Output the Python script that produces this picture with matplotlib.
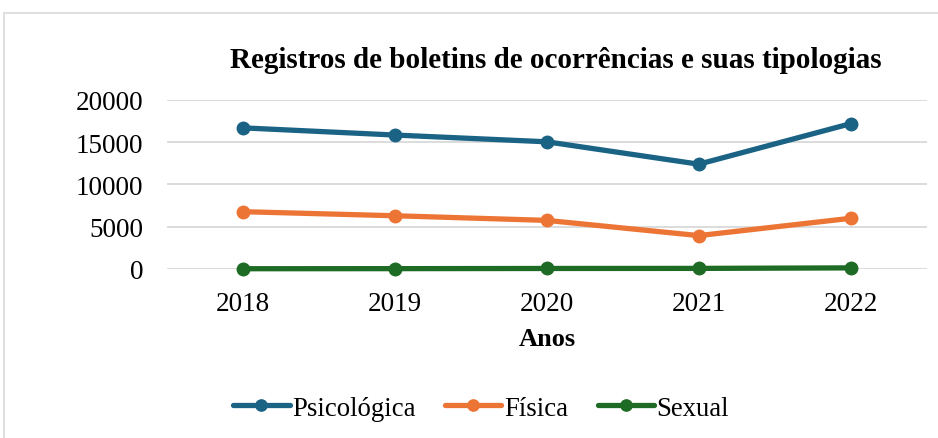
"""Registros de boletins de ocorrencias por tipologia, 2018-2022."""

import matplotlib

matplotlib.use("Agg")
import matplotlib.pyplot as plt
from matplotlib.patches import Rectangle

anos = ["2018", "2019", "2020", "2021", "2022"]
psicologica = [16700, 15850, 15050, 12400, 17200]
fisica = [6780, 6300, 5750, 3950, 6000]
sexual = [30, 40, 60, 70, 130]

series = [
    ("Psicológica", psicologica, "#1a6385"),
    ("Física", fisica, "#ec7535"),
    ("Sexual", sexual, "#1d6b25"),
]

plt.rcParams["font.family"] = ["Liberation Serif", "DejaVu Serif"]

fig = plt.figure(figsize=(9.38, 4.39), dpi=100)
ax = fig.add_axes([0.178, 0.385, 0.81, 0.385])

# chart frame like the spreadsheet export (right/bottom edges fall outside)
fig.patches.append(Rectangle((4 / 938, -0.05), 1.2, 1 - 14 / 439 + 0.05,
                             transform=fig.transFigure, fill=False,
                             edgecolor="#d9d9d9", linewidth=1.2))

x = range(len(anos))
for nome, valores, cor in series:
    ax.plot(x, valores, color=cor, linewidth=3.8, marker="o",
            markersize=9, label=nome, solid_capstyle="round", clip_on=False)

ax.set_xlim(-0.5, len(anos) - 0.5)
ax.set_ylim(0, 20000)
ax.set_yticks(range(0, 20001, 5000))
ax.set_xticks(list(x))
ax.set_xticklabels(anos)
ax.grid(axis="y", color="#d9d9d9", linewidth=1.3)
ax.set_axisbelow(True)
for s in ax.spines.values():
    s.set_visible(False)
ax.tick_params(length=0, labelsize=19.5)
ax.tick_params(axis="y", pad=17)
ax.tick_params(axis="x", pad=16)

ax.set_xlabel("Anos", fontsize=19, fontweight="bold", labelpad=8)
fig.text(0.593, 0.862, "Registros de boletins de ocorrências e suas tipologias",
         fontsize=21, fontweight="bold", ha="center", va="center")

fig.legend(loc="center", bbox_to_anchor=(0.513, 0.068), ncol=3, frameon=False,
           fontsize=19.3, handlelength=2.1, handletextpad=0.1,
           columnspacing=1.1, markerscale=0.9)

fig.savefig("out.png", dpi=100)
